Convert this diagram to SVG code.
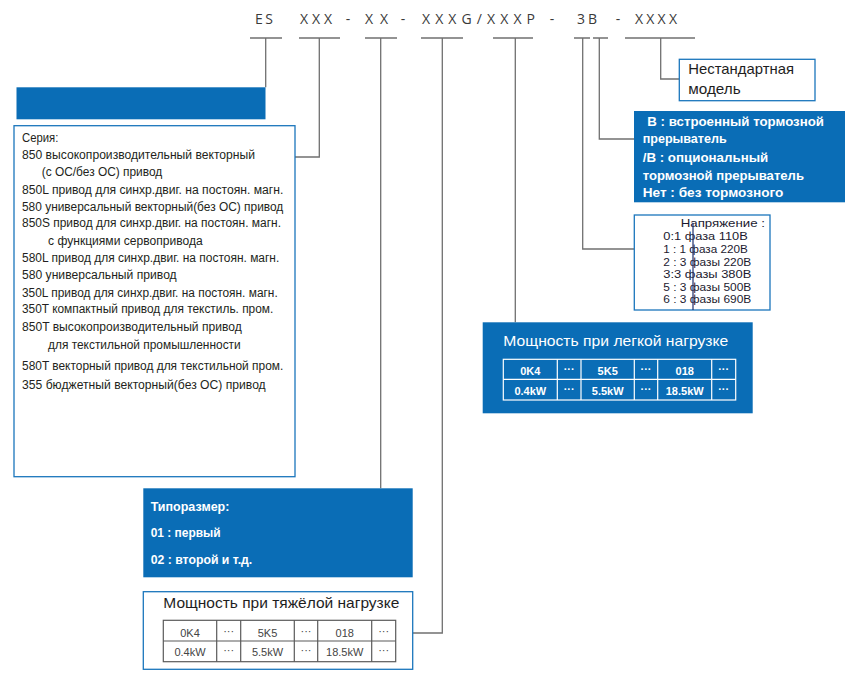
<svg xmlns="http://www.w3.org/2000/svg" width="859" height="679" viewBox="0 0 859 679">
<style>
.bg{fill:#ffffff}
.blue{fill:#0a6db6}
.ob{fill:#ffffff;stroke:#1b76bc;stroke-width:1.3}
.con{fill:none;stroke:#707070;stroke-width:1.3}
.hd{font-family:"Open Sans","Liberation Sans",sans-serif;font-size:14px;fill:#3a3a3a}
.ser{font-family:"Liberation Sans",Arial,sans-serif;font-size:12px;fill:#231f20}
.wb{font-family:"Liberation Sans",Arial,sans-serif;font-size:12.5px;font-weight:bold;fill:#ffffff}
.t15{font-family:"Liberation Sans",Arial,sans-serif;font-size:15px;fill:#1e1e1e}
.w15{font-family:"Liberation Sans",Arial,sans-serif;font-size:15px;fill:#ffffff}
.vt{font-family:"Liberation Sans",Arial,sans-serif;font-size:11.5px;fill:#1c1a30}
.gc{font-family:"Liberation Sans",Arial,sans-serif;font-size:11px;fill:#444444;text-anchor:middle}
.wc{font-family:"Liberation Sans",Arial,sans-serif;font-size:11px;font-weight:bold;fill:#ffffff;text-anchor:middle}
.gt{fill:none;stroke:#5a5a5a;stroke-width:1.2}
.wt{fill:none;stroke:#ffffff;stroke-width:1.2}
</style>
<rect class="bg" x="0" y="0" width="859" height="679"/>

<g id="header">
<text class="hd" x="255" y="23.5" textLength="18" lengthAdjust="spacing">ES</text>
<text class="hd" x="300" y="23.5" textLength="32" lengthAdjust="spacing">XXX</text>
<text class="hd" x="348" y="23.5" text-anchor="middle">-</text>
<text class="hd" x="365" y="23.5" textLength="23" lengthAdjust="spacing">XX</text>
<text class="hd" x="403" y="23.5" text-anchor="middle">-</text>
<text class="hd" x="422" y="23.5" textLength="113" lengthAdjust="spacing">XXXG/XXXP</text>
<text class="hd" x="552" y="23.5" text-anchor="middle">-</text>
<text class="hd" x="577" y="23.5" textLength="20" lengthAdjust="spacing">3B</text>
<text class="hd" x="618" y="23.5" text-anchor="middle">-</text>
<text class="hd" x="635" y="23.5" textLength="42" lengthAdjust="spacing">XXXX</text>
</g>

<g id="connectors">
<path class="con" d="M250 38H282M299 38H340M365 38H397M421 38H463M493 38H533M574 38H590M593 38H608M625 38H695"/>
<path class="con" d="M265.7 38V87.3"/>
<path class="con" d="M319.3 38V157H295"/>
<path class="con" d="M380.7 38V488.3"/>
<path class="con" d="M442.3 38V633H412.7"/>
<path class="con" d="M515.3 38V322.3"/>
<path class="con" d="M582.7 38V249H634"/>
<path class="con" d="M599.3 38V139H634"/>
<path class="con" d="M660.7 38V79H679.3"/>
</g>

<g id="series-header">
<rect class="blue" x="16.5" y="87.3" width="249" height="32"/>
</g>

<g id="series">
<rect class="ob" x="14" y="125.7" width="281" height="351"/>
<text class="ser" x="22" y="142" textLength="36.3" lengthAdjust="spacingAndGlyphs">Серия:</text>
<text class="ser" x="22" y="159" textLength="233" lengthAdjust="spacingAndGlyphs">850 высокопроизводительный векторный</text>
<text class="ser" x="41.7" y="176.3" textLength="120.6" lengthAdjust="spacingAndGlyphs">(с ОС/без ОС) привод</text>
<text class="ser" x="22" y="194" textLength="261.3" lengthAdjust="spacingAndGlyphs">850L  привод для синхр.двиг. на постоян. магн.</text>
<text class="ser" x="22" y="210.7" textLength="261.3" lengthAdjust="spacingAndGlyphs">580 универсальный векторный(без ОС) привод</text>
<text class="ser" x="22" y="227.3" textLength="259" lengthAdjust="spacingAndGlyphs">850S  привод для синхр.двиг. на постоян. магн.</text>
<text class="ser" x="48" y="245" textLength="154.7" lengthAdjust="spacingAndGlyphs">с функциями сервопривода</text>
<text class="ser" x="22" y="262" textLength="257.3" lengthAdjust="spacingAndGlyphs">580L  привод для синхр.двиг. на постоян. магн.</text>
<text class="ser" x="22" y="279.3" textLength="154.7" lengthAdjust="spacingAndGlyphs">580  универсальный привод</text>
<text class="ser" x="22" y="297.3" textLength="255.7" lengthAdjust="spacingAndGlyphs">350L привод для синхр.двиг. на постоян. магн.</text>
<text class="ser" x="22" y="313.3" textLength="251.3" lengthAdjust="spacingAndGlyphs">350T компактный привод для текстиль. пром.</text>
<text class="ser" x="22" y="331" textLength="219.7" lengthAdjust="spacingAndGlyphs">850T высокопроизводительный привод</text>
<text class="ser" x="48" y="349.3" textLength="192.7" lengthAdjust="spacingAndGlyphs">для текстильной промышленности</text>
<text class="ser" x="22" y="370" textLength="261.3" lengthAdjust="spacingAndGlyphs">580T векторный привод для текстильной пром.</text>
<text class="ser" x="22" y="389.3" textLength="243.7" lengthAdjust="spacingAndGlyphs">355 бюджетный векторный(без ОС) привод</text>
</g>

<g id="frame-size">
<rect class="blue" x="143.3" y="488.3" width="269.4" height="89"/>
<text class="wb" x="150.7" y="510.7" textLength="78.7" lengthAdjust="spacingAndGlyphs">Типоразмер:</text>
<text class="wb" x="150.7" y="537.3" textLength="70" lengthAdjust="spacingAndGlyphs">01 : первый</text>
<text class="wb" x="150.7" y="564" textLength="101.6" lengthAdjust="spacingAndGlyphs">02 : второй и т.д.</text>
</g>

<g id="heavy-load">
<rect class="ob" x="143.3" y="591.7" width="269.4" height="77.6"/>
<text class="t15" x="163.3" y="608.3" textLength="236" lengthAdjust="spacingAndGlyphs">Мощность при тяжёлой нагрузке</text>
<rect class="gt" x="163.3" y="620.3" width="232.4" height="41.4"/>
<path class="gt" d="M163.3 641H395.7M216.7 620.3V661.7M240.7 620.3V661.7M294.3 620.3V661.7M317.7 620.3V661.7M371.7 620.3V661.7"/>
<text class="gc" x="190" y="636.5">0K4</text>
<text class="gc" x="228.7" y="634.5">···</text>
<text class="gc" x="267.5" y="636.5">5K5</text>
<text class="gc" x="306" y="634.5">···</text>
<text class="gc" x="344.7" y="636.5">018</text>
<text class="gc" x="383.7" y="634.5">···</text>
<text class="gc" x="190" y="656">0.4kW</text>
<text class="gc" x="228.7" y="654">···</text>
<text class="gc" x="267.5" y="656">5.5kW</text>
<text class="gc" x="306" y="654">···</text>
<text class="gc" x="344.7" y="656">18.5kW</text>
<text class="gc" x="383.7" y="654">···</text>
</g>

<g id="light-load">
<rect class="blue" x="482.7" y="322.3" width="270" height="91"/>
<text class="w15" x="503.3" y="345.7" textLength="225" lengthAdjust="spacingAndGlyphs">Мощность при легкой нагрузке</text>
<rect class="wt" x="503.3" y="359.3" width="232.4" height="40.7"/>
<path class="wt" d="M503.3 379.3H735.7M557.3 359.3V400M581 359.3V400M634.3 359.3V400M657.7 359.3V400M711.7 359.3V400"/>
<text class="wc" x="530.3" y="374.5">0K4</text>
<text class="wc" x="569.2" y="372.5">···</text>
<text class="wc" x="607.7" y="374.5">5K5</text>
<text class="wc" x="646" y="372.5">···</text>
<text class="wc" x="684.7" y="374.5">018</text>
<text class="wc" x="723.7" y="372.5">···</text>
<text class="wc" x="530.3" y="394.5">0.4kW</text>
<text class="wc" x="569.2" y="392.5">···</text>
<text class="wc" x="607.7" y="394.5">5.5kW</text>
<text class="wc" x="646" y="392.5">···</text>
<text class="wc" x="684.7" y="394.5">18.5kW</text>
<text class="wc" x="723.7" y="392.5">···</text>
</g>

<g id="nonstandard">
<rect class="ob" x="679.3" y="59.3" width="135.7" height="41.4"/>
<text class="t15" x="688.3" y="74.3" textLength="105.7" lengthAdjust="spacingAndGlyphs">Нестандартная</text>
<text class="t15" x="688.3" y="94" textLength="52.4" lengthAdjust="spacingAndGlyphs">модель</text>
</g>

<g id="brake">
<rect class="blue" x="634" y="111" width="211" height="91.3"/>
<text class="wb" x="647.3" y="126" textLength="176.7" lengthAdjust="spacingAndGlyphs">B :  встроенный тормозной</text>
<text class="wb" x="642.7" y="143.3" textLength="84" lengthAdjust="spacingAndGlyphs">прерыватель</text>
<text class="wb" x="642.7" y="162.3" textLength="125.6" lengthAdjust="spacingAndGlyphs">/B :  опциональный</text>
<text class="wb" x="642.7" y="180" textLength="161.3" lengthAdjust="spacingAndGlyphs">тормозной прерыватель</text>
<text class="wb" x="642.7" y="196.7" textLength="140.6" lengthAdjust="spacingAndGlyphs">Нет :  без тормозного</text>
</g>

<g id="voltage">
<rect class="ob" x="634.3" y="215" width="135.7" height="95"/>
<text class="vt" x="680.7" y="226.5" textLength="84.3" lengthAdjust="spacingAndGlyphs">Напряжение :</text>
<text class="vt" x="663.3" y="240" textLength="84.5" lengthAdjust="spacingAndGlyphs">0:1 фаза 110В</text>
<text class="vt" x="663.3" y="253" textLength="84.5" lengthAdjust="spacingAndGlyphs">1 : 1 фаза 220В</text>
<text class="vt" x="663.3" y="265.5" textLength="88" lengthAdjust="spacingAndGlyphs">2 : 3 фазы 220В</text>
<text class="vt" x="663.3" y="278" textLength="88" lengthAdjust="spacingAndGlyphs">3:3 фазы 380В</text>
<text class="vt" x="663.3" y="290.5" textLength="88" lengthAdjust="spacingAndGlyphs">5 : 3 фазы 500В</text>
<text class="vt" x="663.3" y="303" textLength="88" lengthAdjust="spacingAndGlyphs">6 : 3 фазы 690В</text>
<path d="M693 223V310" fill="none" stroke="#1e2f6e" stroke-width="1.2"/>
</g>
</svg>
